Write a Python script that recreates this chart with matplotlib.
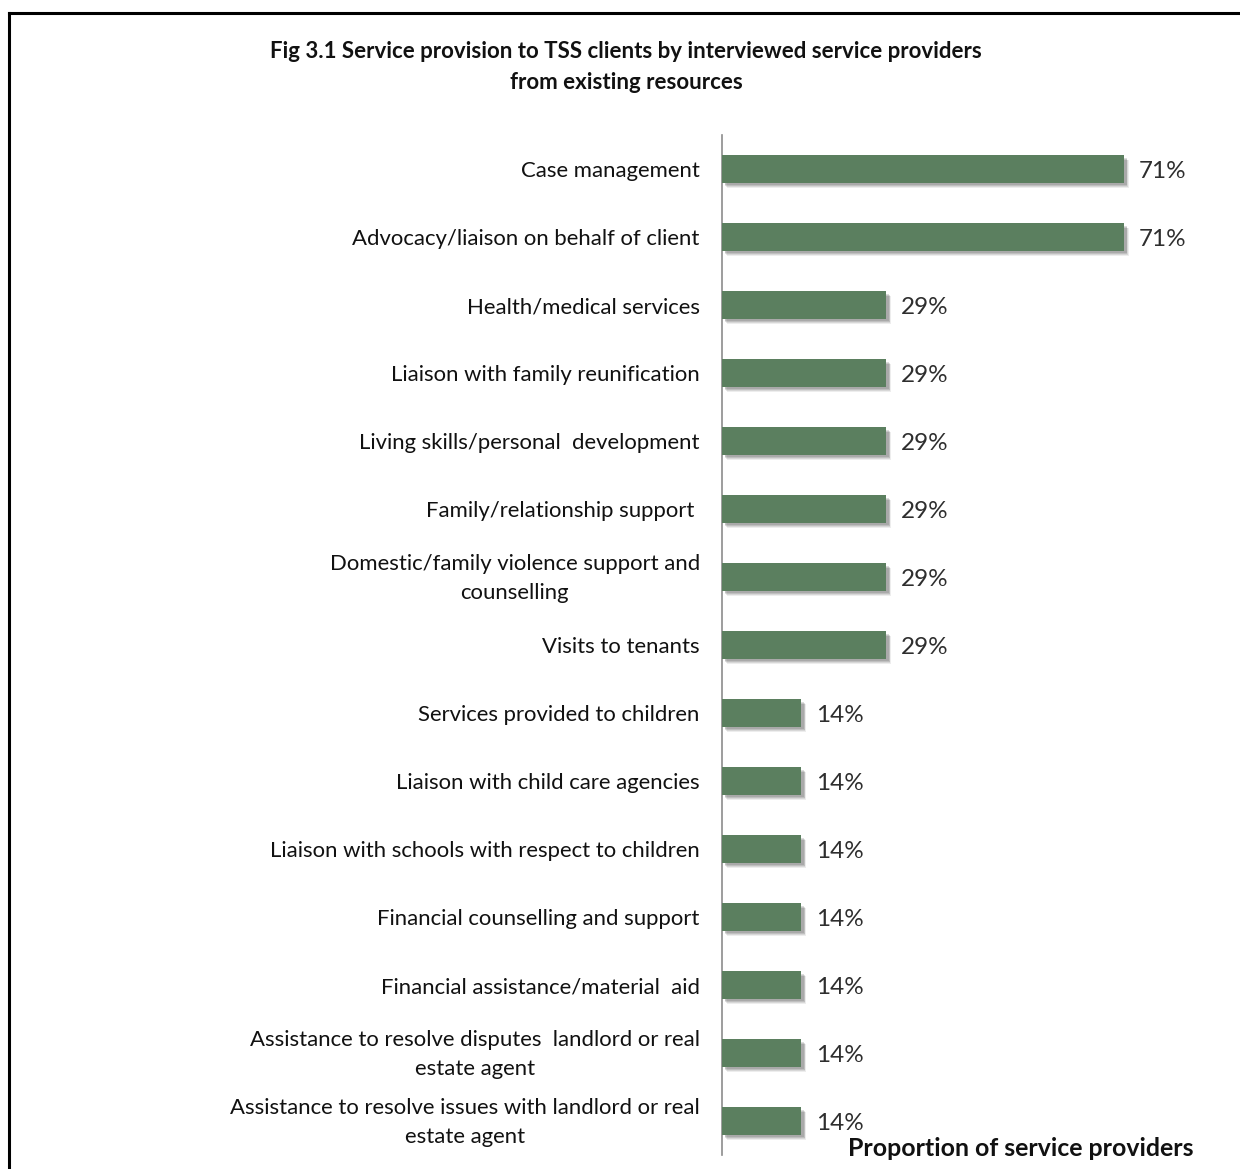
import matplotlib
matplotlib.use("Agg")
import matplotlib.pyplot as plt
import matplotlib.patheffects as pe
import matplotlib.transforms as mtransforms
from matplotlib.lines import Line2D

categories = [
    "Case management",
    "Advocacy/liaison on behalf of client",
    "Health/medical services",
    "Liaison with family reunification",
    "Living skills/personal  development",
    "Family/relationship support ",
    "Domestic/family violence support and\ncounselling",
    "Visits to tenants",
    "Services provided to children",
    "Liaison with child care agencies",
    "Liaison with schools with respect to children",
    "Financial counselling and support",
    "Financial assistance/material  aid",
    "Assistance to resolve disputes  landlord or real\nestate agent",
    "Assistance to resolve issues with landlord or real\nestate agent",
]
values = [71, 71, 29, 29, 29, 29, 29, 29, 14, 14, 14, 14, 14, 14, 14]

title = ("Fig 3.1 Service provision to TSS clients by interviewed service providers\n"
         "from existing resources")
xlabel = "Proportion of service providers"

BAR_COLOR = "#5b7f5f"
FONT = "Lato"

W, H = 1240, 1169
fig = plt.figure(figsize=(W / 100, H / 100), dpi=100)
fig.patch.set_facecolor("white")

# plot area in pixel coordinates
ax_left, ax_top, ax_bottom = 722, 135, 1155
px_per_unit = 402 / 71
xmax = 80
ax = fig.add_axes([ax_left / W, 1 - ax_bottom / H,
                   xmax * px_per_unit / W, (ax_bottom - ax_top) / H])

ypos = list(range(len(categories)))
bars = ax.barh(ypos, values, height=0.4, color=BAR_COLOR, zorder=3)

# soft drop shadow built from a few offset, translucent layers
shadow = [pe.SimplePatchShadow(offset=(d, -d), shadow_rgbFace="#555555", alpha=a)
          for d, a in [(3.6, 0.10), (3.0, 0.14), (2.4, 0.18), (1.8, 0.2)]]
for b in bars:
    b.set_path_effects(shadow + [pe.Normal()])

for y, v in zip(ypos, values):
    ax.annotate(f"{v}%", xy=(v, y), xytext=(10.5, -1.5), textcoords="offset points",
                ha="left", va="center", fontsize=17.5, family=FONT, color="#2e2e2e")

ax.set_xlim(0, xmax)
ax.set_ylim(len(categories) - 0.5, -0.5)
ax.set_yticks(ypos)
ax.set_yticklabels(categories, fontsize=15.9, family=FONT, color="#111111",
                   multialignment="center", linespacing=1.55)
ax.tick_params(axis="y", length=0, pad=16)
# two-line labels sit slightly higher so both lines centre on their bar
lift = mtransforms.ScaledTranslation(0, 5 / 100, fig.dpi_scale_trans)
for lbl in ax.get_yticklabels():
    if "\n" in lbl.get_text():
        lbl.set_transform(lbl.get_transform() + lift)
ax.set_xticks([])
for s in ["top", "right", "bottom"]:
    ax.spines[s].set_visible(False)
ax.spines["left"].set_color("#8c8c8c")
ax.spines["left"].set_linewidth(1.2)
ax.set_facecolor("none")

fig.text(626 / W, 1 - 67 / H, title, ha="center", va="center", fontsize=16,
         family=FONT, fontweight="bold", color="#111111", linespacing=1.55)
fig.text(1021 / W, 1 - 1148 / H, xlabel, ha="center", va="center", fontsize=17.9,
         family=FONT, fontweight="bold", color="#111111")

# outer frame (top and left edges)
fig.add_artist(Line2D([9 / W, 1], [1 - 13 / H, 1 - 13 / H], transform=fig.transFigure,
                      color="black", linewidth=2.2))
fig.add_artist(Line2D([9 / W, 9 / W], [0, 1 - 13 / H], transform=fig.transFigure,
                      color="black", linewidth=2.2))

fig.savefig("out.png", dpi=100, facecolor="white")
